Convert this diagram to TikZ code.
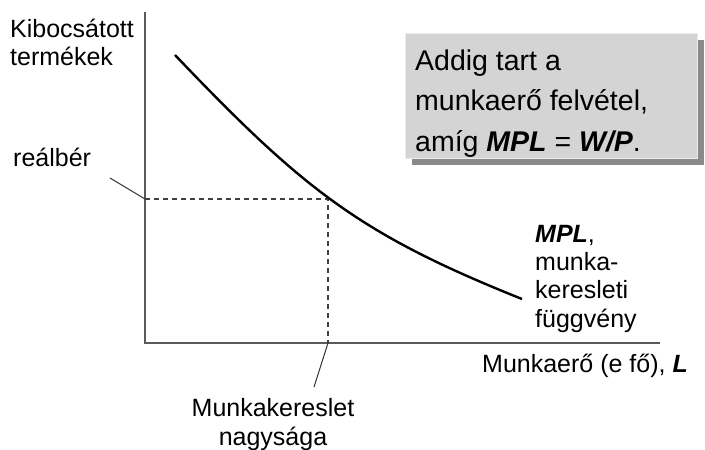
\documentclass[tikz,border=0pt]{standalone}
\usepackage{fontspec}
\setmainfont{Liberation Sans}
\definecolor{boxgray}{RGB}{212,212,212}
\definecolor{boxedge}{RGB}{235,235,235}
\definecolor{shadowgray}{RGB}{138,138,138}
\definecolor{axisgray}{RGB}{90,90,90}
\newcommand{\bi}[1]{\textbf{\textit{#1}}}
\begin{document}
\begin{tikzpicture}[x=1pt,y=-1pt,
  axis/.style={draw=axisgray,line width=1.1pt},
  guide/.style={draw=black!75,line width=1.1pt,dash pattern=on 5pt off 4pt},
  leader/.style={draw=black!80,line width=1pt},
  demand/.style={draw=black,line width=2.4pt},
  lbl/.style={inner sep=0pt,font=\fontsize{25}{28.3}\selectfont,align=left},
  notetext/.style={inner sep=0pt,font=\fontsize{28.5}{40.5}\selectfont,align=left},
]
\useasboundingbox[fill=white] (0,0) rectangle (705,450);

% axes
\coordinate (O) at (145,343);
\coordinate (ytop) at (145,12);
\coordinate (xend) at (660,343);
\draw[axis] (ytop) -- (O) -- (xend);

% equilibrium point and its projections
\coordinate (E) at (328,199);
\coordinate (Ey) at (145,199);
\coordinate (Ex) at (328,343);
\draw[guide] (Ey) -- (E) -- (Ex);

% labour demand curve (MPL)
\coordinate (c0) at (175,55);
\coordinate (c1) at (522,299);
\draw[demand] (c0) .. controls (305,191.5) and (362,235) .. (c1);

% axis labels
\node[lbl,anchor=base west] (ylab1) at (10,37) {Kibocsátott};
\node[lbl,anchor=base west] (ylab2) at (10,65) {termékek};
\node[lbl,anchor=base west] (xlab) at (482,372) {Munkaerő (e fő), \bi{L}};
\node[lbl,anchor=base west] (mpl) at (535,327) {\bi{MPL},\\munka-\\keresleti\\függvény};

% real wage label with leader
\node[lbl,anchor=base west] (real) at (13,166) {reálbér};
\coordinate (realend) at (110,178);
\draw[leader] (realend) -- (Ey);

% employment label with leader
\node[lbl,anchor=base,align=center] (emp) at (273,445) {Munkakereslet\\nagysága};
\coordinate (empend) at (314,387);
\draw[leader] (Ex) -- (empend);

% note box with drop shadow
\fill[shadowgray] (412,40) rectangle (704,165);
\draw[boxedge,fill=boxgray,line width=0.8pt] (405,33) rectangle (697,158);
\node[notetext,anchor=base west] (note) at (415,151)
  {Addig tart a\\munkaerő felvétel,\\amíg \bi{MPL} = \bi{W/P}.};
\end{tikzpicture}
\end{document}
